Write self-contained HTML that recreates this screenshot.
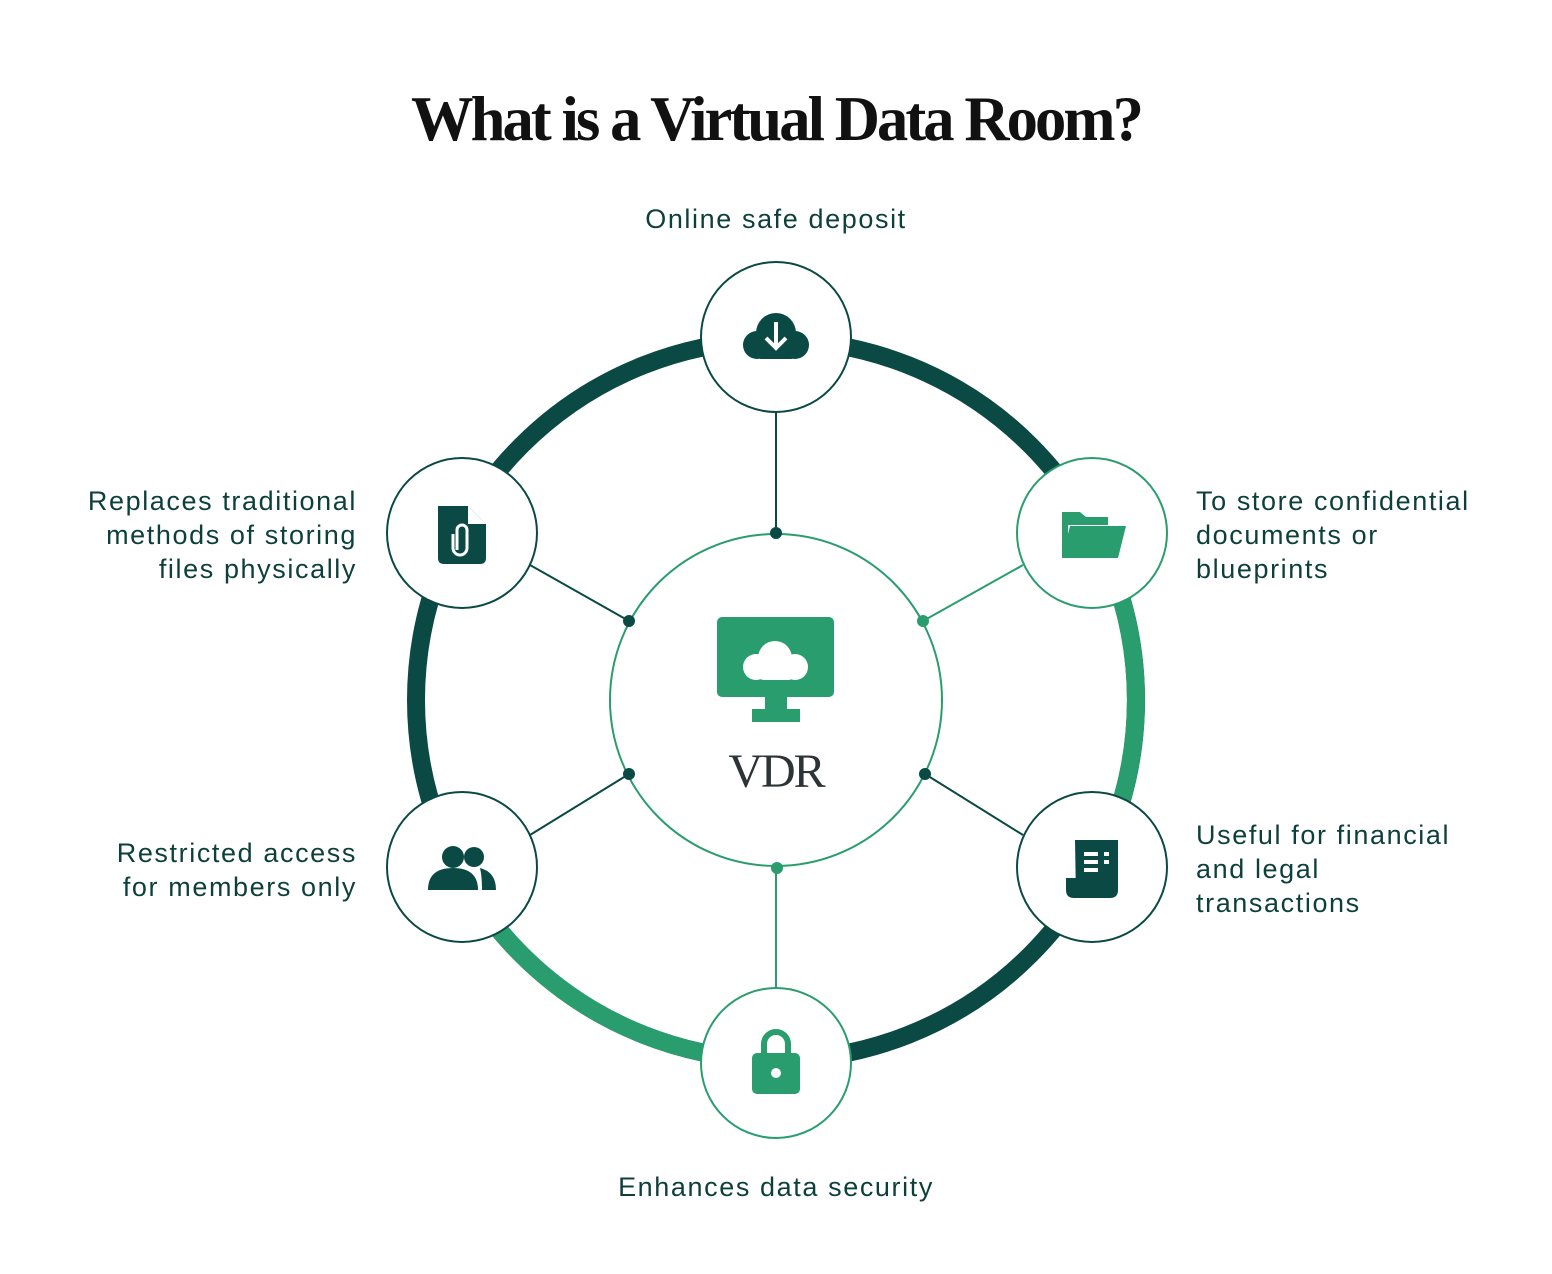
<!DOCTYPE html>
<html><head><meta charset="utf-8"><style>
body{margin:0;background:#fff;width:1552px;height:1274px;overflow:hidden}
svg{display:block}
.l{font-family:"Liberation Sans",sans-serif;font-size:27px;fill:#0d3f3b;letter-spacing:1.6px}
</style></head><body>
<svg width="1552" height="1274" viewBox="0 0 1552 1274">
<text x="776" y="140" text-anchor="middle" font-family="Liberation Serif,serif" font-size="64" font-weight="bold" fill="#111" letter-spacing="-3" textLength="730" lengthAdjust="spacingAndGlyphs">What is a Virtual Data Room?</text>
<circle cx="776" cy="700" r="360" fill="none" stroke="#0b4a44" stroke-width="18"/>
<path d="M1093.8 531 A360 360 0 0 1 1093.8 869" fill="none" stroke="#2a9d6e" stroke-width="18"/>
<path d="M776 1060 A360 360 0 0 1 458.2 869" fill="none" stroke="#2a9d6e" stroke-width="18"/>
<circle cx="776" cy="700" r="166" fill="#fff" stroke="#2a9d6e" stroke-width="2"/>
<g stroke-width="2">
<line x1="776" y1="412" x2="776" y2="533" stroke="#0b4a44"/>
<line x1="776" y1="988" x2="776" y2="868" stroke="#2a9d6e"/>
<line x1="530" y1="565" x2="629" y2="621" stroke="#0b4a44"/>
<line x1="1023" y1="565" x2="923" y2="621" stroke="#2a9d6e"/>
<line x1="530" y1="835" x2="629" y2="774" stroke="#0b4a44"/>
<line x1="1023" y1="835" x2="925" y2="774" stroke="#0b4a44"/>
</g>
<circle cx="776" cy="533" r="6" fill="#0b4a44"/>
<circle cx="629" cy="621" r="6" fill="#0b4a44"/>
<circle cx="923" cy="621" r="6" fill="#2a9d6e"/>
<circle cx="629" cy="774" r="6" fill="#0b4a44"/>
<circle cx="925" cy="774" r="6" fill="#0b4a44"/>
<circle cx="777" cy="868" r="6" fill="#2a9d6e"/>
<g fill="#fff" stroke-width="2">
<circle cx="776" cy="337" r="75" stroke="#0b4a44"/>
<circle cx="1092" cy="533" r="75" stroke="#2a9d6e"/>
<circle cx="1092" cy="867" r="75" stroke="#0b4a44"/>
<circle cx="776" cy="1063" r="75" stroke="#2a9d6e"/>
<circle cx="462" cy="867" r="75" stroke="#0b4a44"/>
<circle cx="462" cy="533" r="75" stroke="#0b4a44"/>
</g>
<g fill="#0b4a44"><circle cx="776" cy="333" r="20"/><circle cx="757" cy="345" r="14"/><circle cx="795" cy="345" r="14"/><rect x="757" y="335" width="38" height="24" rx="4"/></g>
<path d="M776 322 V347 M766 338 L776 348 L786 338" stroke="#fff" stroke-width="4" fill="none"/>
<path d="M1062 512 h18 l6 5 h22 v8 h-46z" fill="#2a9d6e"/><path d="M1062 558 l8 -32 h56 l-8 32z" fill="#2a9d6e"/><rect x="1062" y="520" width="6" height="38" fill="#2a9d6e"/>
<path d="M1075 840 h43 v50 q0 8 -8 8 h-34z" fill="#0b4a44"/><path d="M1066 878 h32 v12 q0 8 8 8 h-32 q-8 0 -8 -8z" fill="#0b4a44"/>
<g fill="#fff"><rect x="1084" y="852" width="14" height="4"/><rect x="1084" y="860" width="14" height="4"/><rect x="1084" y="868" width="14" height="4"/><rect x="1104" y="852" width="5" height="4"/><rect x="1104" y="860" width="5" height="4"/></g>
<path d="M764 1056 v-12 a12 12 0 0 1 24 0 v12" stroke="#2a9d6e" stroke-width="6" fill="none"/>
<rect x="752" y="1053" width="48" height="41" rx="5" fill="#2a9d6e"/><circle cx="776" cy="1073" r="5" fill="#fff"/>
<g fill="#0b4a44"><circle cx="453" cy="857" r="11"/><path d="M428 890 q0 -22 25 -22 q25 0 25 22z"/><circle cx="474" cy="857" r="10"/><path d="M480 868 q16 4 16 22 h-14 q0 -14 -2 -22z"/></g>
<path d="M438 506 h30 l18 18 v34 q0 6 -6 6 h-36 q-6 0 -6 -6z" fill="#0b4a44"/>
<path d="M468 506 v18 h18z" fill="#fff"/>
<path d="M457 550 v-20 a5 5 0 0 1 10 0 v18 a7 7 0 0 1 -14 0 v-14" stroke="#fff" stroke-width="3" fill="none"/>
<rect x="717" y="617" width="117" height="80" rx="5" fill="#2a9d6e"/>
<rect x="765" y="696" width="22" height="15" fill="#2a9d6e"/><rect x="752" y="709" width="48" height="13" fill="#2a9d6e"/>
<g fill="#fff"><circle cx="775" cy="658" r="17"/><circle cx="756" cy="667" r="13"/><circle cx="795" cy="667" r="13"/><rect x="756" y="664" width="40" height="16" rx="8"/></g>
<text x="776" y="787" text-anchor="middle" font-family="Liberation Serif,serif" font-size="48" fill="#2d3436" letter-spacing="-2">VDR</text>
<text x="776" y="228" text-anchor="middle" class="l">Online safe deposit</text>
<text x="776" y="1196" text-anchor="middle" class="l">Enhances data security</text>
<g text-anchor="end"><text x="357" y="510" class="l">Replaces traditional</text><text x="357" y="544" class="l">methods of storing</text><text x="357" y="578" class="l">files physically</text>
<text x="357" y="862" class="l">Restricted access</text><text x="357" y="896" class="l">for members only</text></g>
<text x="1196" y="510" class="l">To store confidential</text><text x="1196" y="544" class="l">documents or</text><text x="1196" y="578" class="l">blueprints</text>
<text x="1196" y="844" class="l">Useful for financial</text><text x="1196" y="878" class="l">and legal</text><text x="1196" y="912" class="l">transactions</text>
</svg>
</body></html>
